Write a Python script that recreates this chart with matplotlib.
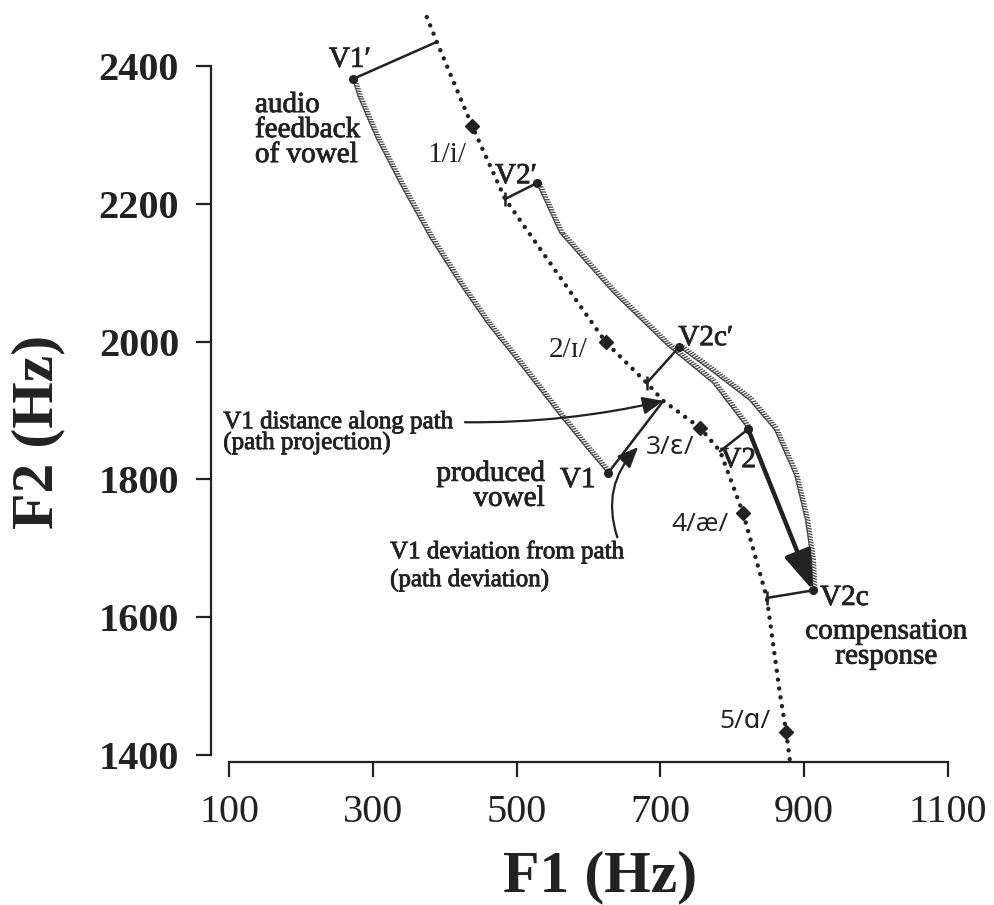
import matplotlib
matplotlib.use("Agg")
import matplotlib.pyplot as plt
import matplotlib.patheffects as pe

SERIF = ["Liberation Serif", "DejaVu Serif"]
SANS = ["Open Sans", "DejaVu Sans"]

# vowel path through F1/F2 space (dotted)
path_f1 = [375, 389, 438, 484, 624, 681, 704, 755, 783, 815, 848, 866, 875, 880]
path_f2 = [2471, 2435, 2313, 2207, 1999, 1940, 1914, 1875, 1841, 1751, 1628, 1490, 1433, 1392]

# reference vowels on the path
vowel_f1 = [438, 624, 755, 815, 875]
vowel_f2 = [2313, 1999, 1875, 1751, 1433]
vowel_labels = ["1/i/", "2/ɪ/", "3/ɛ/", "4/æ/", "5/ɑ/"]

# heard (shifted) vowels and produced vowels
heard_f1 = [272, 528, 726]
heard_f2 = [2381, 2230, 1992]
prod_f1 = [627, 822, 912]
prod_f2 = [1809, 1873, 1639]

# projection of each vowel onto the path: V1', V2', V2c', V1, V2, V2c
proj_f1 = [389, 484, 681, 704, 783, 848]
proj_f2 = [2435, 2207, 1940, 1914, 1841, 1628]

# feedback trajectories
fb1_f1 = [272, 280, 305, 340, 380, 420, 460, 510, 560, 600, 627]
fb1_f2 = [2381, 2355, 2295, 2225, 2150, 2085, 2025, 1960, 1893, 1842, 1809]
fb2_f1 = [528, 560, 634, 709, 773, 822]
fb2_f2 = [2230, 2158, 2071, 1995, 1940, 1873]
fb3_f1 = [726, 773, 824, 859, 887, 902, 910, 912]
fb3_f2 = [1992, 1956, 1915, 1872, 1806, 1741, 1683, 1639]

fig = plt.figure(figsize=(9.95, 9.05), dpi=100)
ax = fig.add_axes([0.2302, 0.1657, 0.7226, 0.8337])
ax.set_xlim(100, 1100)
ax.set_ylim(1400, 2495)

for s in ("top", "right"):
    ax.spines[s].set_visible(False)
ax.spines["left"].set_position(("outward", 13))
ax.spines["bottom"].set_position(("outward", 5))
ax.spines["left"].set_bounds(1400, 2400)
ax.spines["bottom"].set_bounds(100, 1100)
for s in ("left", "bottom"):
    ax.spines[s].set_linewidth(1.6)
    ax.spines[s].set_color("#222")

ax.set_xticks([100, 300, 500, 700, 900, 1100])
ax.set_yticks([1400, 1600, 1800, 2000, 2200, 2400])
ax.tick_params(axis="both", direction="out", length=11, width=1.6, color="#222")
ax.tick_params(axis="y", pad=12)
ax.tick_params(axis="x", pad=12)
for lab in ax.get_xticklabels():
    lab.set_fontfamily(SERIF)
    lab.set_fontsize(29)
    lab.set_color("#222")
for lab in ax.get_yticklabels():
    lab.set_fontfamily(SERIF)
    lab.set_fontsize(29)
    lab.set_fontweight("bold")
    lab.set_color("#222")

ax.set_xlabel("F1 (Hz)", family=SERIF, fontsize=43, fontweight="bold", color="#222", va="center")
ax.set_ylabel("F2 (Hz)", family=SERIF, fontsize=43, fontweight="bold", color="#222", va="center")
ax.xaxis.set_label_coords(0.516, -0.1617)
ax.yaxis.set_label_coords(-0.2656, 0.428)

# dotted vowel path
ax.plot(path_f1, path_f2, color="#222", lw=3.2, linestyle=(0, (0.01, 2.0)),
        dash_capstyle="round", clip_on=False, zorder=2)
ax.plot(vowel_f1, vowel_f2, linestyle="none", marker="D", ms=7, color="#222", zorder=4)

# hatched feedback trajectories
hatch = [pe.withTickedStroke(spacing=2.0, angle=65, length=1.6)]
for fx, fy in ((fb1_f1, fb1_f2), (fb2_f1, fb2_f2), (fb3_f1, fb3_f2)):
    ax.plot(fx, fy, color="#444", lw=0.9, path_effects=hatch, zorder=3)

# projection brackets onto the path
all_f1 = heard_f1 + prod_f1
all_f2 = heard_f2 + prod_f2
for x0, y0, x1, y1 in zip(all_f1, all_f2, proj_f1, proj_f2):
    ax.plot([x0, x1], [y0, y1], color="#222", lw=1.8, zorder=4)
ax.plot([proj_f1[1], proj_f1[2], proj_f1[5]], [proj_f2[1], proj_f2[2], proj_f2[5]],
        linestyle="none", marker="|", ms=10, mew=1.8, color="#222", zorder=4)

ax.plot(all_f1, all_f2, linestyle="none", marker="o", ms=5.5, color="#222", zorder=5)

# compensation arrow V2 -> V2c
ax.annotate("", xy=(prod_f1[2], prod_f2[2]), xytext=(prod_f1[1], prod_f2[1]),
            arrowprops=dict(arrowstyle="-|>,head_length=1.2,head_width=0.42",
                            lw=3.2, color="#222", mutation_scale=20,
                            shrinkA=0, shrinkB=0), zorder=6)

# pointer arrows
ax.annotate("", xy=(proj_f1[3], proj_f2[3]), xytext=(428, 1883),
            arrowprops=dict(arrowstyle="-|>,head_length=0.7,head_width=0.3",
                            connectionstyle="arc3,rad=0.06", lw=1.6, color="#222",
                            mutation_scale=18, shrinkA=0, shrinkB=0))
ax.annotate("", xy=(669, 1847), xytext=(640, 1716),
            arrowprops=dict(arrowstyle="-|>,head_length=0.7,head_width=0.3",
                            connectionstyle="arc3,rad=-0.3", lw=1.6, color="#222",
                            mutation_scale=18, shrinkA=0, shrinkB=0))

# slightly heavier strokes for the annotation text
heavy = [pe.withStroke(linewidth=0.6, foreground="#222")]
tk = dict(family=SERIF, color="#222", path_effects=heavy)
big = dict(tk, fontsize=21)
small = dict(tk, fontsize=18)

ax.text(268, 2409, "V1′", ha="center", va="center", **big)
ax.text(136, 2307, "audio\nfeedback\nof vowel", ha="left", va="center", linespacing=0.95, **big)
ax.text(499, 2240, "V2′", ha="center", va="center", **big)
ax.text(763, 2005, "V2c′", ha="center", va="center", **big)
ax.text(585, 1799, "V1", ha="center", va="center", **big)
ax.text(808, 1828, "V2", ha="center", va="center", **big)
ax.text(922, 1628, "V2c", ha="left", va="center", **big)
ax.text(1014, 1561, "compensation\nresponse", ha="center", va="center", linespacing=0.95, **big)
ax.text(539, 1790, "produced\nvowel", ha="right", va="center", linespacing=0.95, **big)
ax.text(92, 1883, "V1 distance along path", ha="left", va="center", **small)
ax.text(92, 1853, "(path projection)", ha="left", va="center", **small)
ax.text(324, 1695, "V1 deviation from path", ha="left", va="center", **small)
ax.text(324, 1654, "(path deviation)", ha="left", va="center", **small)

# vowel labels
vowel_pos = [(403, 2271), (571, 1988), (713, 1846), (755, 1734), (818, 1448)]
for i, (lab, (tx, ty)) in enumerate(zip(vowel_labels, vowel_pos)):
    fam = SERIF if i < 2 else SANS
    ax.text(tx, ty, lab, ha="center", va="center", family=fam,
            fontsize=21 if i < 2 else 19, color="#222")

fig.savefig("out.png", dpi=100, facecolor="white")
